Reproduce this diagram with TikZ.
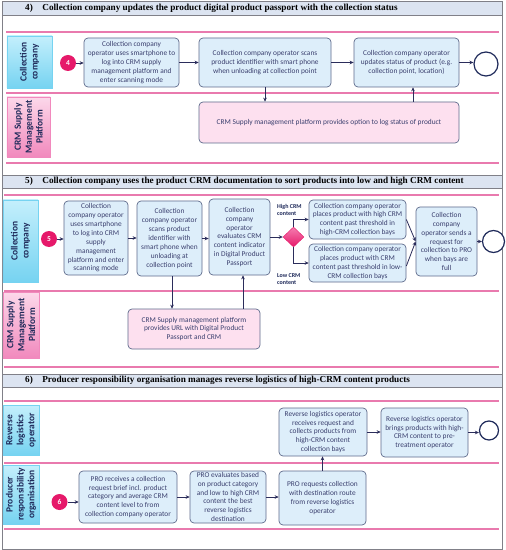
\documentclass[tikz,border=0pt]{standalone}
\usepackage{fontspec}
\setmainfont{Carlito}
\newfontfamily\headfont{Liberation Serif}
\usetikzlibrary{arrows.meta,shapes.geometric,calc}
\definecolor{boxfill}{HTML}{DDEEFA}
\definecolor{boxline}{HTML}{5F6B8C}
\definecolor{txt}{HTML}{3A3F6E}
\definecolor{arrowc}{HTML}{2B2D5B}
\definecolor{pinkfill}{HTML}{FDE0EF}
\definecolor{laneline}{HTML}{E97AAE}
\definecolor{magentaA}{HTML}{E6196A}
\definecolor{magentaB}{HTML}{F57DB0}
\definecolor{hdrfill}{HTML}{DCE4F1}
\definecolor{hdrline}{HTML}{808088}
\definecolor{cyanA}{HTML}{C4EFFC}
\definecolor{cyanB}{HTML}{76D3F1}
\definecolor{pinkA}{HTML}{FCD8EA}
\definecolor{pinkB}{HTML}{F189BD}
\definecolor{navy}{HTML}{1F2A5A}
\tikzset{
  proc/.style={draw=boxline, line width=0.7bp, fill=boxfill, rounded corners=4bp,
    align=center, text=txt, font=\fontsize{7.4}{8.9}\selectfont, inner sep=1bp},
  crmbox/.style={proc, fill=pinkfill},
  arr/.style={draw=arrowc, line width=0.8bp, -{Stealth[length=4bp,width=3.6bp]}},
  lanecc/.style={draw=cyanB, top color=cyanA, bottom color=cyanB, inner sep=0},
  lanecrm/.style={draw=pinkB, top color=pinkA, bottom color=pinkB, inner sep=0},
  lanetext/.style={rotate=90, align=center, text=navy, inner sep=0,
    font=\bfseries\fontsize{9.5}{11}\selectfont},
  startev/.style={circle, fill=magentaA, text=white, minimum size=16bp, inner sep=0,
    font=\bfseries\fontsize{7.5}{8}\selectfont},
  endev/.style={circle, draw=navy, line width=1.2bp, fill=white, inner sep=0},
  laneln/.style={draw=laneline, line width=1.2bp},
  hdr/.style={draw=hdrline, fill=hdrfill, line width=0.8bp, inner sep=0},
  hdrtext/.style={anchor=west, inner sep=0, font=\headfont\bfseries\fontsize{9.25}{10}\selectfont},
  gate/.style={diamond, top color=magentaB, bottom color=magentaA, draw=magentaA,
    minimum width=21bp, minimum height=20bp, inner sep=0},
  gatelbl/.style={anchor=west, align=left, text=navy, inner sep=0,
    font=\bfseries\fontsize{6}{7.5}\selectfont},
}
\begin{document}
\begin{tikzpicture}[x=1bp,y=-1bp]
\useasboundingbox (0,0) rectangle (506,550);
\fill[white] (0,0) rectangle (506,550);
\draw[hdrline, line width=0.8bp] (2.5,1) rectangle (502.5,549);

% ---------- Section 4 ----------
\node[hdr, minimum width=500bp, minimum height=14bp] (h4) at (252.5,8) {};
\node[hdrtext] (h4t) at (25,8) {4)\hspace{9.5bp}Collection company updates the product digital product passport with the collection status};
\draw[laneln] (6,32) -- (499,32);
\draw[laneln] (6,93) -- (499,93);
\draw[laneln] (6,163) -- (499,163);

\node[lanecc, minimum width=45bp, minimum height=52bp] (cc4) at (29.5,62) {};
\node[lanetext] (cc4t) at (cc4) {Collection\\company};
\node[lanecrm, minimum width=43bp, minimum height=60bp] (crm4) at (28.5,127) {};
\node[lanetext] (crm4t) at (crm4) {CRM Supply\\Management\\Platform};

\node[startev] (s4) at (68,63) {4};
\node[proc, minimum width=95bp, minimum height=49bp] (b1) at (131.5,62.5)
  {Collection company\\operator uses smartphone to\\log into CRM supply\\management platform and\\enter scanning mode};
\node[proc, minimum width=132bp, minimum height=49bp] (b2) at (265,62.5)
  {Collection company operator scans\\product identifier with smart phone\\when unloading at collection point};
\node[proc, minimum width=105bp, minimum height=49bp] (b3) at (406.5,62.5)
  {Collection company operator\\updates status of product (e.g.\\collection point, location)};
\node[endev, minimum size=24bp] (e4) at (486,64) {};
\node[crmbox, minimum width=260bp, minimum height=41bp] (c4) at (329,122.5)
  {CRM Supply management platform provides option to log status of product};

\draw[arr] (s4.east) -- (s4.east -| b1.west);
\draw[arr] (b1.east) -- (b2.west);
\draw[arr] (b2.east) -- (b3.west);
\draw[arr] (b3.east) -- (b3.east -| e4.west);
\draw[arr] (b2.south) -- (b2.south |- c4.north);
\draw[arr] ([xshift=6.5bp]b3.south |- c4.north) -- ([xshift=6.5bp]b3.south);

% ---------- Section 5 ----------
\node[hdr, minimum width=500bp, minimum height=13bp] (h5) at (252.5,181.5) {};
\node[hdrtext] (h5t) at (25,181.5) {5)\hspace{9.5bp}Collection company uses the product CRM documentation to sort products into low and high CRM content};
\draw[laneln] (4,195) -- (499,195);
\draw[laneln] (4,291) -- (499,291);
\draw[laneln] (4,367) -- (499,367);

\node[lanecc, minimum width=35bp, minimum height=82bp] (cc5) at (20.5,241) {};
\node[lanetext] (cc5t) at (cc5) {Collection\\company};
\node[lanecrm, minimum width=36bp, minimum height=66bp] (crm5) at (21,325) {};
\node[lanetext] (crm5t) at (crm5) {CRM Supply\\Management\\Platform};

\node[startev] (s5) at (49,239) {5};
\node[proc, minimum width=64bp, minimum height=74bp] (A) at (96,238)
  {Collection\\company operator\\uses smartphone\\to log into CRM\\supply\\management\\platform and enter\\scanning mode};
\node[proc, minimum width=65bp, minimum height=75bp] (B) at (169.5,238.5)
  {Collection\\company operator\\scans product\\identifier with\\smart phone when\\unloading at\\collection point};
\node[proc, minimum width=61bp, minimum height=76bp] (C) at (239.5,237)
  {Collection\\company\\operator\\evaluates CRM\\content indicator\\in Digital Product\\Passport};
\node[gate] (d) at (293.5,237) {};
\node[gatelbl] (hi) at (277,210) {High CRM\\content};
\node[gatelbl] (lo) at (277,279) {Low CRM\\content};
\node[proc, minimum width=97bp, minimum height=39bp] (D) at (357.5,219.5)
  {Collection company operator\\places product with high CRM\\content past threshold in\\high-CRM collection bays};
\node[proc, minimum width=97bp, minimum height=38bp] (E) at (357.5,263)
  {Collection company operator\\places product with CRM\\content past threshold in low-\\CRM collection bays};
\node[proc, minimum width=61bp, minimum height=69bp] (F) at (446.5,241.5)
  {Collection\\company\\operator sends a\\request for\\collection to PRO\\when bays are\\full};
\node[endev, minimum size=22bp] (e5) at (493.5,241.5) {};
\node[crmbox, minimum width=132bp, minimum height=40bp] (c5) at (194,329)
  {CRM Supply management platform\\provides URL with Digital Product\\Passport and CRM};

\draw[arr] (s5.east) -- (s5.east -| A.west);
\draw[arr] (A.east) -- (A.east -| B.west);
\draw[arr] (B.east) -- (B.east -| C.west);
\draw[arr] (C.east |- d) -- (d.west);
\draw[arr] (d.north) |- (D.west);
\draw[arr] (d.south) |- (E.west);
\draw[arr] (D.east) -- (F.west);
\draw[arr] ([yshift=-3bp]E.east) -- (F.west);
\draw[arr] (F.east) -- (F.east -| e5.west);
\draw[arr] ([xshift=2.5bp]B.south) -- ([xshift=2.5bp]B.south |- c5.north);
\draw[arr] ([xshift=3.5bp]C.south |- c5.north) -- ([xshift=3.5bp]C.south);

% ---------- Section 6 ----------
\node[hdr, minimum width=500bp, minimum height=13bp] (h6) at (252.5,380.5) {};
\node[hdrtext] (h6t) at (25,380.5) {6)\hspace{9.5bp}Producer responsibility organisation manages reverse logistics of high-CRM content products};
\draw[laneln] (4,401) -- (499,401);
\draw[laneln] (4,463) -- (499,463);
\draw[laneln] (4,529) -- (499,529);

\node[lanecc, minimum width=36bp, minimum height=50bp] (rl) at (21,430) {};
\node[lanetext] (rlt) at (rl) {Reverse\\logistics\\operator};
\node[lanecc, minimum width=36bp, minimum height=59bp] (pr) at (21,494.5) {};
\node[lanetext] (prt) at (pr) {Producer\\responsibility\\organisation};

\node[startev] (s6) at (59.5,502) {6};
\node[proc, minimum width=98bp, minimum height=52bp] (P1) at (128,497)
  {PRO receives a collection\\request brief incl. product\\category and average CRM\\content level to from\\collection company operator};
\node[proc, minimum width=76bp, minimum height=52bp] (P2) at (228,497)
  {PRO evaluates based\\on product category\\and low to high CRM\\content the best\\reverse logistics\\destination};
\node[proc, minimum width=87bp, minimum height=54bp] (P3) at (322.5,498)
  {PRO requests collection\\with destination route\\from reverse logistics\\operator};
\node[proc, minimum width=88bp, minimum height=48bp] (R1) at (323,432)
  {Reverse logistics operator\\receives request and\\collects products from\\high-CRM content\\collection bays};
\node[proc, minimum width=87bp, minimum height=49bp] (R2) at (424.5,432.5)
  {Reverse logistics operator\\brings products with high-\\CRM content to pre-\\treatment operator};
\node[endev, minimum size=19bp] (e6) at (489,430.5) {};

\draw[arr] (s6.east) -- (s6.east -| P1.west);
\draw[arr] (P1.east) -- (P2.west);
\draw[arr] (P2.east) -- (P2.east -| P3.west);
\draw[arr] (P3.north) -- (P3.north |- R1.south);
\draw[arr] (R1.east) -- (R1.east -| R2.west);
\draw[arr] (R2.east) -- (R2.east -| e6.west);
\end{tikzpicture}
\end{document}
